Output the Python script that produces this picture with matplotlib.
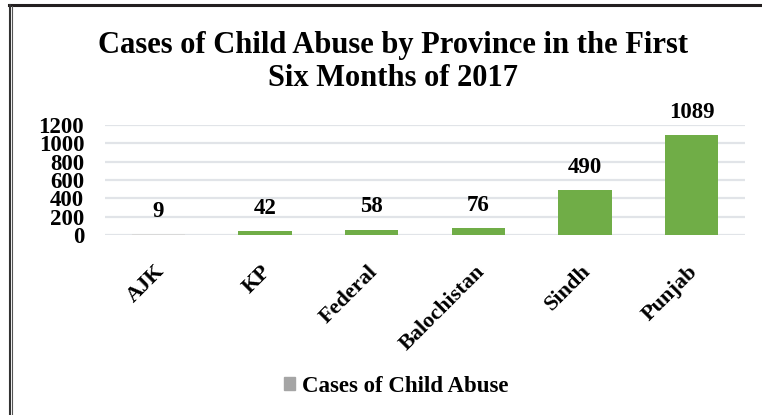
import matplotlib
matplotlib.use("Agg")
import matplotlib.pyplot as plt
from matplotlib.patches import Patch
from matplotlib.lines import Line2D
from matplotlib.transforms import ScaledTranslation

provinces = ["AJK", "KP", "Federal", "Balochistan", "Sindh", "Punjab"]
cases = [9, 42, 58, 76, 490, 1089]
bar_colors = ["#d9d9d9", "#70ad47", "#70ad47", "#70ad47", "#70ad47", "#70ad47"]
yticks = [0, 200, 400, 600, 800, 1000, 1200]

plt.rcParams["font.family"] = ["Liberation Serif", "DejaVu Serif"]
plt.rcParams["font.weight"] = "bold"

fig = plt.figure(figsize=(7.62, 4.15), dpi=100)
ax = fig.add_axes([105 / 762, 180 / 415, 640 / 762, 110 / 415])

x = range(len(provinces))
bars = ax.bar(x, cases, width=0.5, color=bar_colors, zorder=3)
ax.set_xlim(-0.5, len(provinces) - 0.5)
ax.set_ylim(0, 1200)
ax.set_yticks(yticks)
ax.set_yticklabels([str(t) for t in yticks], fontsize=16.5, fontweight="bold")
ax.grid(axis="y", color="#e1e4e8", linewidth=1.6, zorder=0)
for s in ax.spines.values():
    s.set_visible(False)
ax.tick_params(axis="y", length=0, pad=15)
ax.tick_params(axis="x", length=0, pad=19)
ax.set_xticks(list(x))
ax.set_xticklabels(provinces, rotation=45, ha="right", rotation_mode="anchor",
                   fontsize=16, fontweight="bold")
shift = ScaledTranslation(-4 / 100, 0, fig.dpi_scale_trans)
for lbl in ax.get_xticklabels():
    lbl.set_transform(lbl.get_transform() + shift)

for b, v in zip(bars, cases):
    ax.annotate(str(v), (b.get_x() + b.get_width() / 2, v), xytext=(0, 9),
                textcoords="offset points", ha="center", va="bottom",
                fontsize=16.5, fontweight="bold", clip_on=False)

fig.text(393 / 762, 1 - 62 / 415,
         "Cases of Child Abuse by Province in the First\nSix Months of 2017",
         ha="center", va="center", fontsize=22, fontweight="bold", linespacing=1.15)

fig.legend(handles=[Patch(color="#a5a5a5", label="Cases of Child Abuse")],
           loc="center", bbox_to_anchor=(396 / 762, 1 - 386 / 415), frameon=False,
           prop={"size": 16.5, "weight": "bold"}, handlelength=0.5, handleheight=0.5,
           handletextpad=0.3)

# chart frame
fig.add_artist(Line2D([9 / 762, 1], [1 - 5 / 415, 1 - 5 / 415], color="#231f20",
                      linewidth=2.2, transform=fig.transFigure))
fig.add_artist(Line2D([9.5 / 762, 9.5 / 762], [0, 1 - 5 / 415], color="#333333",
                      linewidth=1.5, transform=fig.transFigure))
fig.add_artist(Line2D([12 / 762, 12 / 762], [0, 1 - 6 / 415], color="#555555",
                      linewidth=0.8, transform=fig.transFigure))

fig.savefig("out.png", dpi=100)
